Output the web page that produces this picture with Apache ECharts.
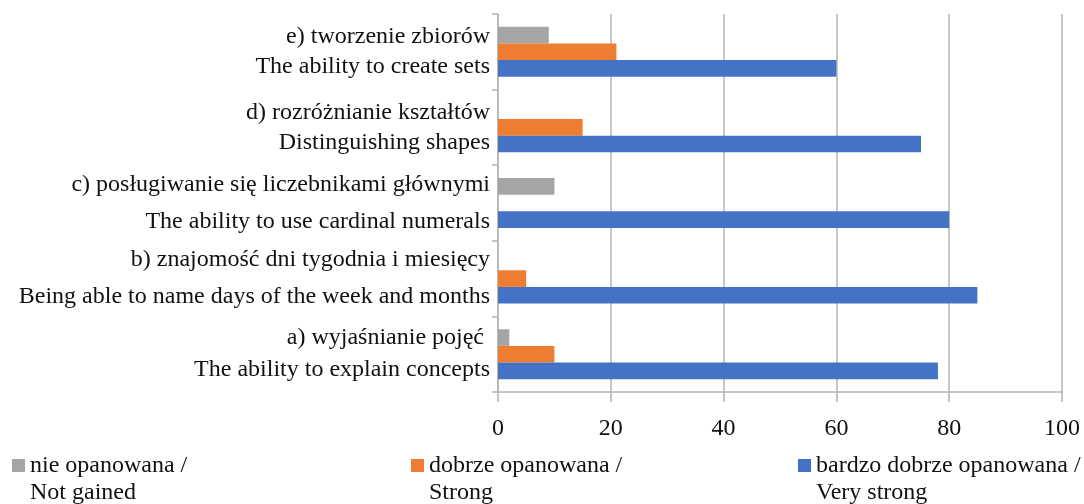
<html>
<head>
    <meta charset="utf-8">
    <script src="https://cdn.jsdelivr.net/npm/echarts@6/dist/echarts.min.js"></script>
</head>
<body style="margin:0">
    <div id="main" style="width:1084px; height:504px"></div>
</body>
<script type="text/javascript">
    // categories bottom -> top
    var categories = [
        'a) wyjaśnianie pojęć \nThe ability to explain concepts',
        'b) znajomość dni tygodnia i miesięcy\nBeing able to name days of the week and months',
        'c) posługiwanie się liczebnikami głównymi\nThe ability to use cardinal numerals',
        'd) rozróżnianie kształtów\nDistinguishing shapes',
        'e) tworzenie zbiorów\nThe ability to create sets'
    ];
    var seriesNames = [
        'nie opanowana /\nNot gained',
        'dobrze opanowana /\nStrong',
        'bardzo dobrze opanowana /\nVery strong'
    ];
    var notGained = [2, 0, 10, 0, 9];
    var strong = [10, 5, 0, 15, 21];
    var veryStrong = [78, 85, 80, 75, 60];
    var colors = ['#A5A5A5', '#ED7D31', '#4472C4'];
    // spacing between the two label lines, per category (style only)
    var labelStyles = ['h32', 'h37', 'h37', 'h30', 'h30'];

    var myChart = echarts.init(document.getElementById('main'));
    var font = '"Liberation Serif", "Times New Roman", serif';
    var gridColor = '#B4B4B4';
    var textColor = '#111';

    function legendAt(left, name) {
        return {
            left: left,
            top: 425,
            padding: 0,
            data: [name],
            icon: 'rect',
            itemWidth: 13,
            itemHeight: 13,
            itemGap: 0,
            formatter: function (n) { return '\n' + n; },
            textStyle: {
                fontFamily: font,
                fontSize: 24,
                color: textColor,
                lineHeight: 27
            }
        };
    }

    var option = {
        animation: false,
        color: colors,
        textStyle: { fontFamily: font },
        grid: { left: 498, right: 22, top: 14, bottom: 112 },
        legend: [
            legendAt(12, seriesNames[0]),
            legendAt(411, seriesNames[1]),
            legendAt(798, seriesNames[2])
        ],
        xAxis: {
            type: 'value',
            min: 0,
            max: 100,
            interval: 20,
            axisLine: { show: true, lineStyle: { color: gridColor, width: 1.5 } },
            axisTick: { show: true, length: 10, lineStyle: { color: gridColor, width: 1.5 } },
            splitLine: { show: true, lineStyle: { color: gridColor, width: 1.5 } },
            axisLabel: { fontSize: 24, color: textColor, fontFamily: font, margin: 25 }
        },
        yAxis: {
            type: 'category',
            data: categories,
            axisLine: { show: true, lineStyle: { color: gridColor, width: 1.5 } },
            axisTick: { show: true, length: 6, lineStyle: { color: gridColor, width: 1.5 } },
            axisLabel: {
                fontSize: 24,
                color: textColor,
                fontFamily: font,
                margin: 8,
                align: 'right',
                formatter: function (value, idx) {
                    var s = labelStyles[idx];
                    return value.split('\n').map(function (t) {
                        return '{' + s + '|' + t + '}';
                    }).join('\n');
                },
                rich: {
                    h30: { fontSize: 24, fontFamily: font, color: textColor, lineHeight: 30, align: 'right' },
                    h32: { fontSize: 24, fontFamily: font, color: textColor, lineHeight: 32, align: 'right' },
                    h37: { fontSize: 24, fontFamily: font, color: textColor, lineHeight: 37, align: 'right' }
                }
            }
        },
        series: [
            { name: seriesNames[0], type: 'bar', data: notGained, barGap: '0%', barCategoryGap: '34%' },
            { name: seriesNames[1], type: 'bar', data: strong, barGap: '0%', barCategoryGap: '34%' },
            { name: seriesNames[2], type: 'bar', data: veryStrong, barGap: '0%', barCategoryGap: '34%' }
        ]
    };
    myChart.setOption(option);
</script>
</html>
